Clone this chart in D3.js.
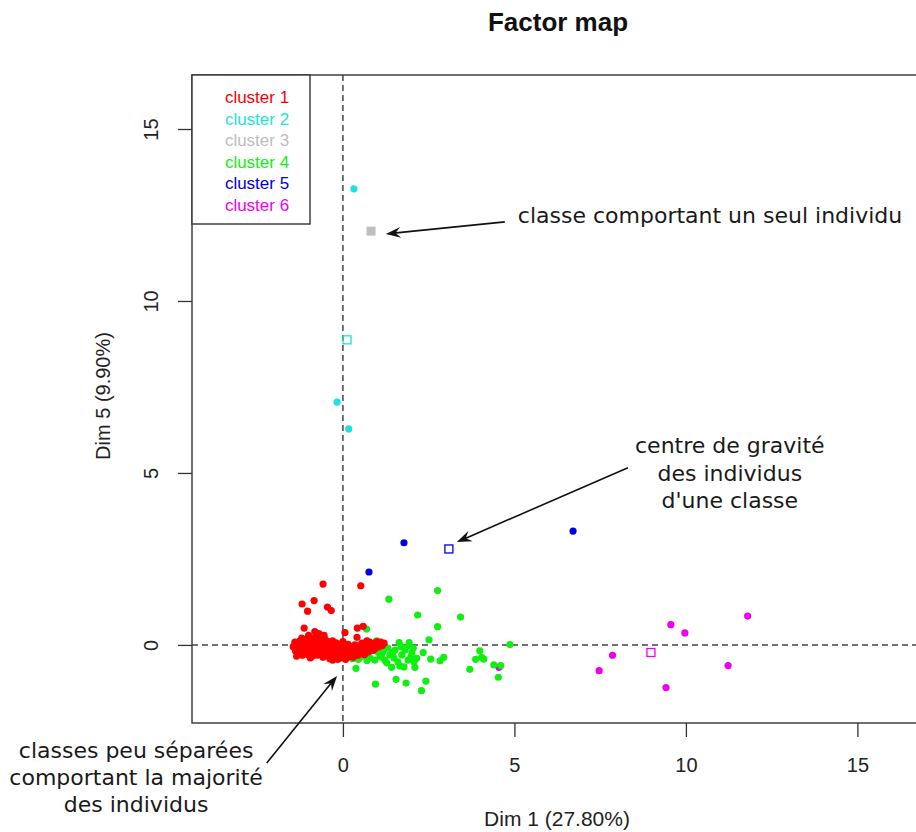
<!DOCTYPE html>
<html><head><meta charset="utf-8">
<script src="https://cdn.jsdelivr.net/npm/d3@7"></script>
<style>body{margin:0;background:#fff}</style></head>
<body>
<svg id="c" width="916" height="832"></svg>
<script>
// ---- data (Dim 1, Dim 5) ----
const clusterNames = ["cluster 1","cluster 2","cluster 3","cluster 4","cluster 5","cluster 6"];
const clusterColors = ["#ff0000","#1fe0e0","#bebebe","#11ee11","#0000e0","#ee00ee"];

const cluster1 = [
 [-0.58,1.77],[0.52,1.72],[-1.19,1.19],[-0.84,1.29],[-1.03,0.98],[-0.45,1.10],[-0.34,1.00],
 [-1.13,0.49],[-0.82,0.39],[-0.73,0.29],[0.06,0.36],[0.42,0.49],[0.59,0.54],[0.41,0.22],
 [-1.45,-0.05],[-1.40,0.08],[-1.38,-0.18],[-1.32,0.02],[-1.30,-0.25],[-1.25,0.12],[-1.22,-0.10],
 [-1.18,-0.30],[-1.15,0.05],[-1.10,-0.15],[-1.08,0.16],[-1.05,-0.02],[-1.02,-0.28],[-0.98,0.10],
 [-0.95,-0.12],[-0.92,0.20],[-0.90,-0.33],[-0.88,0.00],[-0.85,-0.20],[-0.82,0.12],[-0.80,-0.08],
 [-0.78,0.22],[-0.75,-0.30],[-0.72,0.05],[-0.70,-0.15],[-0.68,0.15],[-0.65,-0.02],[-0.62,-0.25],
 [-0.60,0.08],[-0.58,-0.36],[-0.55,-0.10],[-0.52,0.16],[-0.50,-0.22],[-0.48,0.02],[-0.45,-0.32],
 [-0.42,0.10],[-0.40,-0.12],[-0.38,-0.40],[-0.35,0.05],[-0.32,-0.18],[-0.30,0.12],[-0.28,-0.28],
 [-0.25,-0.05],[-0.22,-0.35],[-0.20,0.06],[-0.18,-0.15],[-0.15,-0.42],[-0.12,0.02],[-0.10,-0.25],
 [-0.08,-0.08],[-0.05,-0.38],[-0.02,0.04],[0.00,-0.18],[0.03,-0.30],[0.05,-0.05],[0.08,-0.42],
 [0.10,-0.12],[0.13,-0.25],[0.15,0.02],[0.18,-0.35],[0.20,-0.15],[0.23,-0.05],[0.25,-0.28],
 [0.28,-0.10],[0.30,-0.36],[0.33,-0.18],[0.35,0.00],[0.38,-0.25],[0.40,-0.10],[0.43,-0.30],
 [0.45,-0.05],[0.48,-0.18],[0.50,-0.26],[0.53,-0.08],[0.55,0.05],[0.58,-0.20],[0.60,-0.12],
 [0.63,-0.28],[0.65,0.00],[0.68,-0.15],[0.72,-0.05],[0.75,-0.20],[0.78,0.08],[0.80,-0.12],
 [0.85,-0.02],[0.88,-0.16],[0.92,0.05],[0.95,-0.10],[1.00,0.10],[1.05,-0.05],[1.10,0.08],
 [1.15,-0.02],[1.20,0.05],[-1.35,-0.33],[-1.20,0.20],[-0.95,-0.38],[-0.60,0.22],[-0.30,-0.44],
 [0.00,0.10],[-1.00,0.28],[-0.70,0.33],[-0.55,0.28],[-1.28,-0.12],[-0.40,-0.25],[0.70,0.12]
];
const cluster4 = [
 [2.76,1.58],[1.34,1.33],[2.18,0.87],[3.43,0.81],[2.76,0.53],[0.69,0.46],[2.51,0.15],[4.87,0.01],
 [1.64,0.07],[1.93,0.07],[2.34,-0.22],[2.56,-0.41],[2.83,-0.46],[2.94,-0.36],[3.99,-0.17],
 [4.04,-0.36],[3.87,-0.42],[4.11,-0.41],[3.70,-0.71],[4.40,-0.58],[4.60,-0.60],[4.53,-0.94],
 [0.38,-0.68],[0.95,-1.14],[1.55,-1.00],[1.84,-1.11],[2.42,-1.05],[2.29,-1.33],[1.42,-0.65],
 [1.66,-0.61],[2.10,-0.65],[2.15,-0.39],[1.92,-0.03],[1.52,-0.15],[1.72,-0.29],[1.90,-0.44],
 [1.60,-0.49],[1.81,-0.15],[2.01,-0.23],[1.37,-0.29],[1.22,-0.44],[1.08,-0.32],[0.93,-0.44],
 [0.79,-0.38],[0.64,-0.32],[0.50,-0.35],[0.35,-0.29],[0.20,-0.32],[1.02,-0.20],[1.31,-0.09],
 [0.55,-0.20],[0.85,-0.15],[1.17,-0.20],[1.49,-0.38],[2.07,-0.49],[1.78,-0.64],[0.98,0.12],
 [0.28,-0.40],[0.45,-0.42],[0.70,-0.45],[1.12,-0.35],[1.28,-0.52],[1.45,-0.22],[1.98,-0.35],
 [1.70,-0.05],[2.05,-0.10]
];
const cluster2 = [[0.32,13.26],[-0.17,7.06],[0.17,6.28]];
const cluster3 = [[0.82,12.03]];
const cluster5 = [[1.78,2.97],[0.76,2.12],[6.71,3.31]];
const cluster6 = [[4.55,-0.65],[9.56,0.59],[9.97,0.35],[11.80,0.84],[7.86,-0.30],[7.47,-0.75],[9.42,-1.24],[11.23,-0.60]];
const centroids = [[1,0.12,8.87],[2,0.82,12.03],[4,3.09,2.79],[5,8.98,-0.22]]; // [cluster index, dim1, dim5]

const xTicks = [0,5,10,15];
const yTicks = [0,5,10,15];
const titleText = "Factor map";
const xLabel = "Dim 1 (27.80%)";
const yLabel = "Dim 5 (9.90%)";

const notes = [
 {lines:["classe comportant un seul individu"], x:5.10, y:[12.27], anchor:"start"},
 {lines:["centre de gravité","des individus","d'une classe"], x:11.28, y:[5.58,4.77,3.98], anchor:"middle"},
 {lines:["classes peu séparées","comportant la majorité","des individus"], x:-6.03, y:[-3.28,-4.07,-4.85], anchor:"middle"}
];
const arrows = [
 [4.72,12.30,1.25,11.95],
 [8.31,5.15,3.32,2.99],
 [-2.22,-3.43,-0.17,-0.90]
];

// ---- drawing ----
const svg = d3.select("#c");
const x = d3.scaleLinear().domain([-4.4,17]).range([192,926]);
const y = d3.scaleLinear().domain([-2.27,16.57]).range([723,75]);
const F = "'Liberation Sans', Arial, sans-serif";
const FA = "'DejaVu Sans', sans-serif";

svg.append("text").attr("x",558).attr("y",31).attr("text-anchor","middle")
  .attr("font-family",F).attr("font-weight","bold").attr("font-size",26).attr("fill","#111").text(titleText);

// axes
const gx = svg.append("g").attr("transform","translate(0,723)")
  .call(d3.axisBottom(x).tickValues(xTicks).tickSize(14).tickPadding(21).tickFormat(d3.format("d")));
gx.select(".domain").remove();
gx.selectAll("line").attr("stroke","#333").attr("stroke-width",1.3);
gx.selectAll("text").attr("font-family",F).attr("font-size",20).attr("fill","#222");

const gy = svg.append("g").attr("transform","translate(192,0)")
  .call(d3.axisLeft(y).tickValues(yTicks).tickSize(14).tickFormat(d3.format("d")));
gy.select(".domain").remove();
gy.selectAll("line").attr("stroke","#333").attr("stroke-width",1.3);
gy.selectAll("text").attr("x",null).attr("dy",null).attr("text-anchor","middle")
  .attr("transform","translate(-34,0) rotate(-90)")
  .attr("font-family",F).attr("font-size",20).attr("fill","#222");

svg.append("text").attr("x",557).attr("y",826).attr("text-anchor","middle")
  .attr("font-family",F).attr("font-size",21).attr("fill","#222").text(xLabel);
svg.append("text").attr("transform","translate(110,396) rotate(-90)").attr("text-anchor","middle")
  .attr("font-family",F).attr("font-size",20).attr("fill","#222").text(yLabel);

// reference dashed lines
svg.append("line").attr("x1",x(0)).attr("x2",x(0)).attr("y1",y.range()[1]).attr("y2",y.range()[0])
  .attr("stroke","#444").attr("stroke-width",1.5).attr("stroke-dasharray","6,4");
svg.append("line").attr("x1",x.range()[0]).attr("x2",x.range()[1]).attr("y1",y(0)).attr("y2",y(0))
  .attr("stroke","#444").attr("stroke-width",1.5).attr("stroke-dasharray","6,4");

// points
const groups = [[5,cluster6],[4,cluster5],[3,cluster4],[0,cluster1],[1,cluster2]];
groups.forEach(([ci,pts])=>{
  svg.append("g").selectAll("circle").data(pts).join("circle")
    .attr("cx",d=>x(d[0])).attr("cy",d=>y(d[1])).attr("r",3.6).attr("fill",clusterColors[ci]);
});
// single-individual cluster (filled square)
svg.append("g").selectAll("rect").data(cluster3).join("rect")
  .attr("x",d=>x(d[0])-4.5).attr("y",d=>y(d[1])-4.5).attr("width",9).attr("height",9)
  .attr("fill",clusterColors[2]);
// centroids
svg.append("g").selectAll("rect").data(centroids.filter(c=>c[0]!==2)).join("rect")
  .attr("x",d=>x(d[1])-4).attr("y",d=>y(d[2])-4).attr("width",8).attr("height",8)
  .attr("fill","none").attr("stroke",d=>clusterColors[d[0]]).attr("stroke-width",1.3);

// plot frame
svg.append("rect").attr("x",x.range()[0]).attr("y",y.range()[1])
  .attr("width",x.range()[1]-x.range()[0]).attr("height",y.range()[0]-y.range()[1])
  .attr("fill","none").attr("stroke","#333").attr("stroke-width",1.4);

// legend
svg.append("rect").attr("x",192).attr("y",75).attr("width",118).attr("height",149)
  .attr("fill","#fff").attr("stroke","#333").attr("stroke-width",1.4);
svg.append("g").selectAll("text").data(clusterNames).join("text")
  .attr("x",257).attr("y",(d,i)=>103+i*21.5).attr("text-anchor","middle")
  .attr("font-family",F).attr("font-size",17).attr("fill",(d,i)=>clusterColors[i]).text(d=>d);

// annotations
notes.forEach(n=>{
  n.lines.forEach((t,i)=>{
    svg.append("text").attr("x",x(n.x)).attr("y",y(n.y[i])).attr("text-anchor",n.anchor)
      .attr("font-family",FA).attr("font-size",22).attr("fill","#1a1a1a").text(t);
  });
});
arrows.forEach(a=>{
  const x1=x(a[0]),y1=y(a[1]),x2=x(a[2]),y2=y(a[3]);
  const dx=x2-x1,dy=y2-y1,len=Math.hypot(dx,dy),ux=dx/len,uy=dy/len,nx=-uy,ny=ux;
  const L=15,Wd=5.5;
  svg.append("line").attr("x1",x1).attr("y1",y1).attr("x2",x2-ux*8).attr("y2",y2-uy*8)
    .attr("stroke","#111").attr("stroke-width",1.6);
  const p=[[x2,y2],[x2-ux*L+nx*Wd,y2-uy*L+ny*Wd],[x2-ux*L*0.65,y2-uy*L*0.65],[x2-ux*L-nx*Wd,y2-uy*L-ny*Wd]];
  svg.append("path").attr("d","M"+p.map(q=>q.join(",")).join("L")+"Z").attr("fill","#111");
});
</script>
</body></html>
